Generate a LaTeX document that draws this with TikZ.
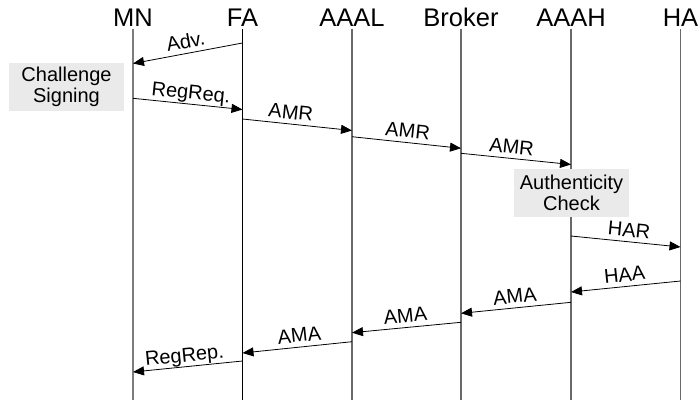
\documentclass[tikz,border=0pt]{standalone}
\usepackage{fontspec}
\setmainfont{Liberation Sans}
\usetikzlibrary{arrows.meta}
\definecolor{boxgray}{RGB}{234,234,234}
\definecolor{lifegray}{RGB}{105,105,105}
\definecolor{mngray}{RGB}{125,125,125}
\tikzset{
  title/.style={font=\fontsize{25.5}{30}\selectfont, anchor=base, inner sep=0pt},
  life/.style={draw=lifegray, line width=1.1pt},
  msg/.style={draw=black, line width=0.8pt, -{Triangle[length=11pt,width=9pt]}},
  lbl/.style={font=\fontsize{20}{22}\selectfont, sloped, above=4.5pt, inner sep=0pt, text depth=0pt},
  notebox/.style={fill=boxgray, draw=none, minimum width=115pt, minimum height=48pt, inner sep=0pt, align=center, font=\fontsize{20}{21.5}\selectfont},
}
\begin{document}
\begin{tikzpicture}[x=1pt, y=-1pt]
\useasboundingbox (0,0) rectangle (699,404);
% titles
\node[title] (tMN) at (133,26.5) {MN};
\node[title] (tFA) at (242.5,26.5) {FA};
\node[title] (tAAAL) at (352,26.5) {AAAL};
\node[title] (tBr) at (461,26.5) {Broker};
\node[title] (tAAAH) at (571,26.5) {AAAH};
\node[title] (tHA) at (680.5,26.5) {HA};
% lifelines
\coordinate (MNt) at (133,29); \coordinate (MNb) at (133,400);
\coordinate (FAt) at (242.5,29); \coordinate (FAb) at (242.5,400);
\coordinate (ALt) at (352,29); \coordinate (ALb) at (352,400);
\coordinate (BRt) at (461,29); \coordinate (BRb) at (461,400);
\coordinate (AHt) at (571,29); \coordinate (AHb) at (571,400);
\coordinate (HAt) at (680.5,29); \coordinate (HAb) at (680.5,400);
\draw[draw=mngray, line width=1.9pt] (MNt) -- (MNb);
\draw[draw=black, line width=1pt] (FAt) -- (FAb);
\draw[life] (ALt) -- (ALb);
\draw[life] (BRt) -- (BRb);
\draw[life] (AHt) -- (AHb);
\draw[life] (HAt) -- (HAb);
% notes
\node[notebox] (cs) at (66.5,87) {Challenge\\Signing};
\node[notebox] (ac) at (571.5,193) {Authenticity\\Check};
% message end points
\coordinate (a1) at (242.5,43);  \coordinate (a2) at (133,63.5);
\coordinate (r1) at (133,98.3);  \coordinate (r2) at (242.5,109.5);
\coordinate (m1) at (242.5,119); \coordinate (m2) at (352,130.5);
\coordinate (m3) at (352,136.7); \coordinate (m4) at (461,148.3);
\coordinate (m5) at (461,153.3); \coordinate (m6) at (571,164.5);
\coordinate (h1) at (571,236);   \coordinate (h2) at (680.5,247);
\coordinate (h3) at (680.5,281); \coordinate (h4) at (571,292);
\coordinate (b1) at (571,302.3); \coordinate (b2) at (461,313.3);
\coordinate (b3) at (461,322.3); \coordinate (b4) at (352,332.7);
\coordinate (b5) at (352,341.7); \coordinate (b6) at (242.5,353);
\coordinate (g1) at (242.5,361); \coordinate (g2) at (133,372);
% messages
\draw[msg] (a1) -- node[lbl, pos=0.5] {Adv.} (a2);
\draw[msg] (r1) -- node[lbl, pos=0.52] {RegReq.} (r2);
\draw[msg] (m1) -- node[lbl, pos=0.43] {AMR} (m2);
\draw[msg] (m3) -- node[lbl, pos=0.5] {AMR} (m4);
\draw[msg] (m5) -- node[lbl, pos=0.45] {AMR} (m6);
\draw[msg] (h1) -- node[lbl, pos=0.52] {HAR} (h2);
\draw[msg] (h3) -- node[lbl, pos=0.5] {HAA} (h4);
\draw[msg] (b1) -- node[lbl, pos=0.5] {AMA} (b2);
\draw[msg] (b3) -- node[lbl, pos=0.5] {AMA} (b4);
\draw[msg] (b5) -- node[lbl, pos=0.47] {AMA} (b6);
\draw[msg] (g1) -- node[lbl, pos=0.52] {RegRep.} (g2);
\end{tikzpicture}
\end{document}
